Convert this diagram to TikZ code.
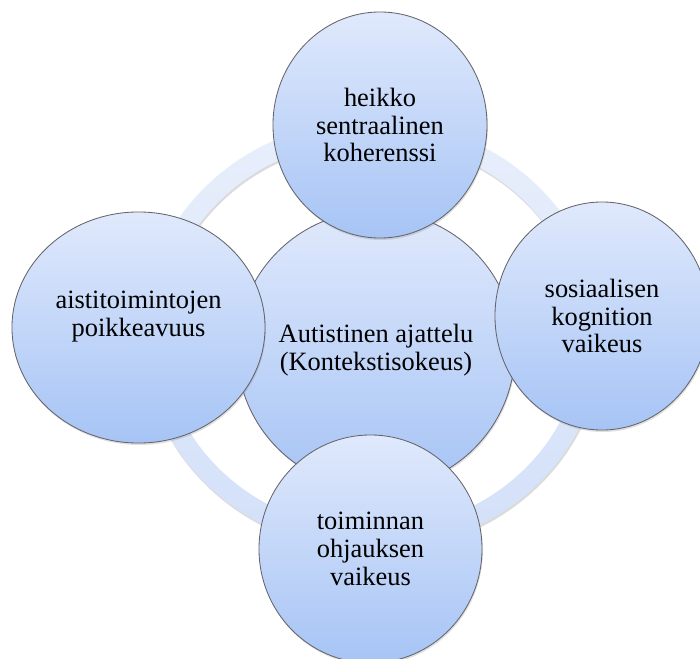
\documentclass[tikz,border=0pt]{standalone}
\usepackage{fontspec}
\setmainfont{Liberation Serif}
\usetikzlibrary{shapes.geometric,shadows}

\definecolor{bubbletop}{RGB}{224,233,252}
\definecolor{bubblebottom}{RGB}{166,196,245}
\definecolor{ringtop}{RGB}{232,239,252}
\definecolor{ringbottom}{RGB}{211,224,248}
\definecolor{rim}{RGB}{100,100,106}

\begin{document}
\begin{tikzpicture}[x=0.025cm, y=-0.025cm,
    bubble/.style={ellipse, draw=rim, line width=0.6pt, inner sep=0pt,
        top color=bubbletop, bottom color=bubblebottom, align=center,
        font=\rmfamily\fontsize{18.8}{19.8}\selectfont,
        drop shadow={opacity=0.25, shadow xshift=0.6pt, shadow yshift=-1.4pt}},
    ring/.style={even odd rule, top color=ringtop, bottom color=ringbottom}
]
    \clip (0,0) rectangle (700,659);

    \fill[black, opacity=0.14, even odd rule, xshift=0.6pt, yshift=-1.6pt]
        (372,335) ellipse [x radius=230, y radius=215]
        (372,335) ellipse [x radius=210, y radius=195];
    \path[ring]
        (372,335) ellipse [x radius=230, y radius=215]
        (372,335) ellipse [x radius=210, y radius=195];

    \node[bubble, minimum width=6.95cm, minimum height=6.95cm] (ajattelu) at (376,350)
        {Autistinen ajattelu\\(Kontekstisokeus)};

    \node[bubble, minimum width=5.35cm, minimum height=5.65cm] (koherenssi) at (380,125)
        {heikko\\sentraalinen\\koherenssi};
    \node[bubble, minimum width=6.325cm, minimum height=5.775cm] (aistit) at (138.5,327.5)
        {aistitoimintojen\\poikkeavuus\\\mbox{}};
    \node[bubble, minimum width=5.35cm, minimum height=5.7cm] (kognitio) at (602,316)
        {sosiaalisen\\kognition\\vaikeus};
    \node[bubble, minimum width=5.575cm, minimum height=5.7cm] (ohjaus) at (370.5,549)
        {toiminnan\\ohjauksen\\vaikeus};

\end{tikzpicture}
\end{document}
